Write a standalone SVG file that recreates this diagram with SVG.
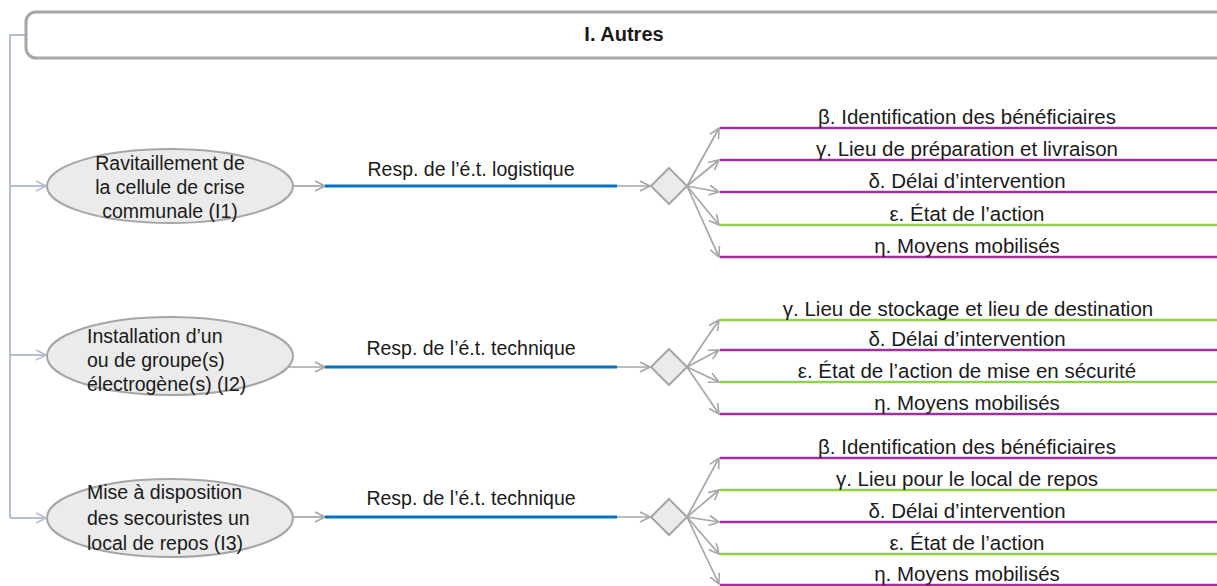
<svg xmlns="http://www.w3.org/2000/svg" width="1217" height="586" viewBox="0 0 1217 586">
<style>
.bg{fill:#ffffff}
.title{fill:#ffffff;stroke:#a6a6a6;stroke-width:3}
.ell{fill:#ebebeb;stroke:#a6a6a6;stroke-width:2}
.dia{fill:#ebebeb;stroke:#a6a6a6;stroke-width:2}
.trunk{fill:none;stroke:#b4bfd3;stroke-width:2}
.gray{fill:none;stroke:#a6a6a6;stroke-width:1.7}
.blue{stroke:#0070c0;stroke-width:3}
.pur{stroke:#a0309e;stroke-width:2.5}
.grn{stroke:#92d050;stroke-width:2.5}
text{font-family:"Liberation Sans",Arial,sans-serif;font-size:19.5px;fill:#1a1a1a}
.c{text-anchor:middle}
.lb{font-size:20.5px}
.b{font-weight:bold;font-size:20px}
</style>
<defs>
<marker id="aB" viewBox="0 0 12 12" markerWidth="12" markerHeight="12" refX="11" refY="6" orient="auto" markerUnits="userSpaceOnUse">
<path d="M1,1 L11,6 L1,11" fill="none" stroke="#b4bfd3" stroke-width="1.6"/>
</marker>
<marker id="aG" viewBox="0 0 12 12" markerWidth="12" markerHeight="12" refX="11" refY="6" orient="auto" markerUnits="userSpaceOnUse">
<path d="M1,1 L11,6 L1,11" fill="none" stroke="#a6a6a6" stroke-width="1.6"/>
</marker>
</defs>
<rect class="bg" x="0" y="0" width="1217" height="586"/>

<g id="connectors">
<path class="trunk" d="M26,35 H10 V518"/>
<line class="trunk" x1="10" y1="186" x2="46" y2="186" marker-end="url(#aB)"/>
<line class="trunk" x1="10" y1="355" x2="46" y2="355" marker-end="url(#aB)"/>
<line class="trunk" x1="10" y1="518" x2="46" y2="518" marker-end="url(#aB)"/>

<line class="gray" x1="293" y1="186" x2="325" y2="186" marker-end="url(#aG)"/>
<line class="gray" x1="288" y1="367" x2="325" y2="367" marker-end="url(#aG)"/>
<line class="gray" x1="293" y1="517" x2="325" y2="517" marker-end="url(#aG)"/>

<line class="blue" x1="325" y1="186" x2="617" y2="186"/>
<line class="blue" x1="325" y1="367" x2="617" y2="367"/>
<line class="blue" x1="325" y1="517" x2="617" y2="517"/>

<line class="gray" x1="617" y1="186" x2="650" y2="186" marker-end="url(#aG)"/>
<line class="gray" x1="617" y1="367" x2="650" y2="367" marker-end="url(#aG)"/>
<line class="gray" x1="617" y1="517" x2="650" y2="517" marker-end="url(#aG)"/>

<line class="gray" x1="687" y1="186" x2="719" y2="128" marker-end="url(#aG)"/>
<line class="gray" x1="687" y1="186" x2="719" y2="160" marker-end="url(#aG)"/>
<line class="gray" x1="687" y1="186" x2="719" y2="192" marker-end="url(#aG)"/>
<line class="gray" x1="687" y1="186" x2="719" y2="225" marker-end="url(#aG)"/>
<line class="gray" x1="687" y1="186" x2="719" y2="257" marker-end="url(#aG)"/>

<line class="gray" x1="687" y1="367" x2="719" y2="320" marker-end="url(#aG)"/>
<line class="gray" x1="687" y1="367" x2="719" y2="350" marker-end="url(#aG)"/>
<line class="gray" x1="687" y1="367" x2="719" y2="382" marker-end="url(#aG)"/>
<line class="gray" x1="687" y1="367" x2="719" y2="414" marker-end="url(#aG)"/>

<line class="gray" x1="687" y1="517" x2="719" y2="458" marker-end="url(#aG)"/>
<line class="gray" x1="687" y1="517" x2="719" y2="490" marker-end="url(#aG)"/>
<line class="gray" x1="687" y1="517" x2="719" y2="522" marker-end="url(#aG)"/>
<line class="gray" x1="687" y1="517" x2="719" y2="554" marker-end="url(#aG)"/>
<line class="gray" x1="687" y1="517" x2="719" y2="584" marker-end="url(#aG)"/>
</g>

<g id="title">
<rect class="title" x="26" y="12" width="1220" height="46" rx="10" ry="10"/>
<text class="c b" x="624" y="41">I. Autres</text>
</g>

<g id="I1">
<ellipse class="ell" cx="170" cy="186" rx="123" ry="37"/>
<text class="c" x="170" y="170">Ravitaillement de</text>
<text class="c" x="170" y="194">la cellule de crise</text>
<text class="c" x="170" y="218">communale (I1)</text>
</g>
<g id="I2">
<ellipse class="ell" cx="170" cy="356" rx="123" ry="39"/>
<text x="87" y="343">Installation d’un</text>
<text x="87" y="367">ou de groupe(s)</text>
<text x="87" y="391">électrogène(s) (I2)</text>
</g>
<g id="I3">
<ellipse class="ell" cx="170" cy="518" rx="123" ry="39"/>
<text x="87" y="499">Mise à disposition</text>
<text x="87" y="525">des secouristes un</text>
<text x="87" y="550">local de repos (I3)</text>
</g>

<g id="R1"><text class="c" x="471" y="176">Resp. de l’é.t. logistique</text></g>
<g id="R2"><text class="c" x="471" y="355">Resp. de l’é.t. technique</text></g>
<g id="R3"><text class="c" x="471" y="505">Resp. de l’é.t. technique</text></g>

<g id="D1"><polygon class="dia" points="669,168 687,186 669,204 651,186"/></g>
<g id="D2"><polygon class="dia" points="669,349 687,367 669,385 651,367"/></g>
<g id="D3"><polygon class="dia" points="669,499 687,517 669,535 651,517"/></g>

<g id="L1">
<line class="pur" x1="720" y1="128" x2="1217" y2="128"/><text class="c lb" x="967" y="124">β. Identification des bénéficiaires</text>
<line class="pur" x1="720" y1="160" x2="1217" y2="160"/><text class="c lb" x="967" y="156">γ. Lieu de préparation et livraison</text>
<line class="pur" x1="720" y1="192" x2="1217" y2="192"/><text class="c lb" x="967" y="188">δ. Délai d’intervention</text>
<line class="grn" x1="720" y1="225" x2="1217" y2="225"/><text class="c lb" x="967" y="221">ε. État de l’action</text>
<line class="pur" x1="720" y1="257" x2="1217" y2="257"/><text class="c lb" x="967" y="253">η. Moyens mobilisés</text>
</g>
<g id="L2">
<line class="grn" x1="720" y1="320" x2="1217" y2="320"/><text class="c lb" x="968" y="316">γ. Lieu de stockage et lieu de destination</text>
<line class="pur" x1="720" y1="350" x2="1217" y2="350"/><text class="c lb" x="967" y="346">δ. Délai d’intervention</text>
<line class="grn" x1="720" y1="382" x2="1217" y2="382"/><text class="c lb" x="967" y="378">ε. État de l’action de mise en sécurité</text>
<line class="pur" x1="720" y1="414" x2="1217" y2="414"/><text class="c lb" x="967" y="410">η. Moyens mobilisés</text>
</g>
<g id="L3">
<line class="pur" x1="720" y1="458" x2="1217" y2="458"/><text class="c lb" x="967" y="454">β. Identification des bénéficiaires</text>
<line class="grn" x1="720" y1="490" x2="1217" y2="490"/><text class="c lb" x="967" y="486">γ. Lieu pour le local de repos</text>
<line class="pur" x1="720" y1="522" x2="1217" y2="522"/><text class="c lb" x="967" y="518">δ. Délai d’intervention</text>
<line class="grn" x1="720" y1="554" x2="1217" y2="554"/><text class="c lb" x="967" y="550">ε. État de l’action</text>
<line class="pur" x1="720" y1="585" x2="1217" y2="585"/><text class="c lb" x="967" y="581">η. Moyens mobilisés</text>
</g>
</svg>
